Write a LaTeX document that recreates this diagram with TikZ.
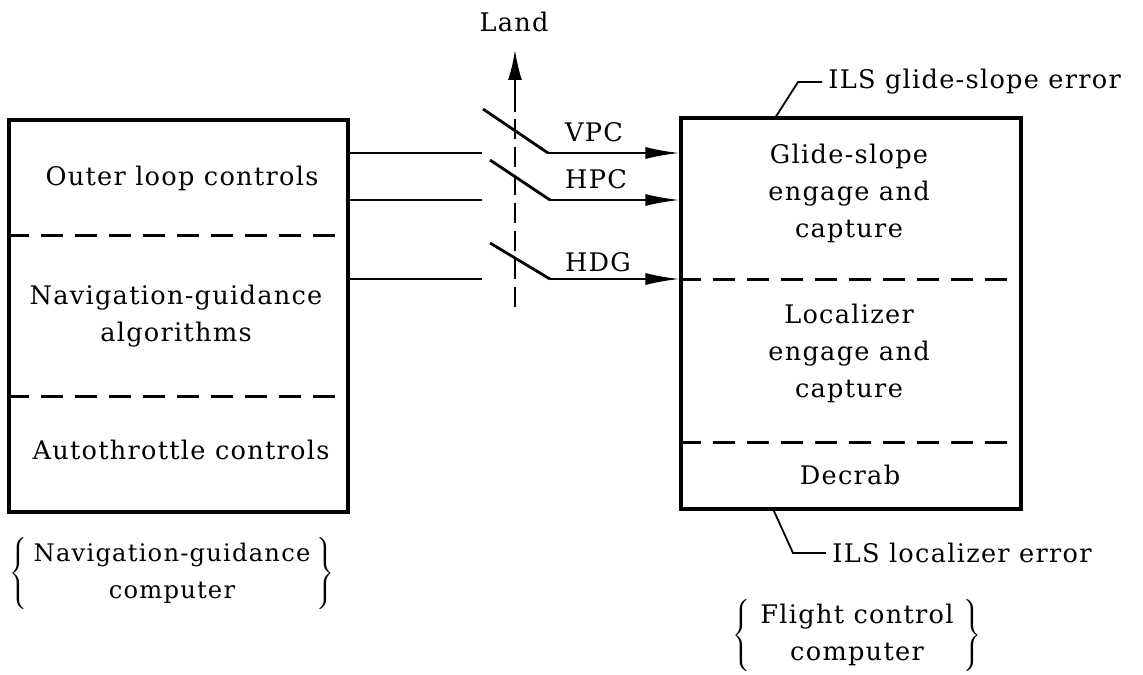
\documentclass[tikz,border=0pt]{standalone}
\usepackage{fontspec}
\setmainfont[LetterSpace=5]{DejaVu Serif}
\usetikzlibrary{arrows.meta}
\begin{document}
\begin{tikzpicture}[x=0.5pt,y=-0.5pt,
  txt/.style={font=\fontsize{12.8}{18.5}\selectfont, align=center, inner sep=0pt},
  box/.style={draw, line width=1.6pt, inner sep=0pt},
  part/.style={line width=1.5pt, dash pattern=on 11pt off 6pt},
  wire/.style={line width=1pt},
  blade/.style={line width=1.4pt},
  sig/.style={line width=1pt, -{Latex[length=17pt,width=6pt]}},
  vdash/.style={line width=1pt, dash pattern=on 10pt off 4pt},
  leader/.style={line width=0.9pt}]
\useasboundingbox (0,0) rectangle (1143,674);

% boxes
\node[box, minimum width=169.5pt, minimum height=196pt] (L) at (178.5,316) {};
\node[box, minimum width=170pt, minimum height=195.5pt] (R) at (851,313.5) {};

% partitions
\draw[part] (L.west |- 0,235) -- (L.east |- 0,235);
\draw[part] (L.west |- 0,396) -- (L.east |- 0,396);
\draw[part] (R.west |- 0,279) -- (R.east |- 0,279);
\draw[part] (R.west |- 0,442) -- (R.east |- 0,442);

% box texts
\node[txt] (t1) at (182,178) {Outer loop controls};
\node[txt] (t2) at (176,316) {Navigation-guidance\\algorithms};
\node[txt] (t3) at (181,450) {Autothrottle controls};
\node[txt] (t4) at (849,193) {Glide-slope\\engage and\\capture};
\node[txt] (t5) at (849,353) {Localizer\\engage and\\capture};
\node[txt] (t6) at (850,475) {Decrab};

% land
\node[txt] (land) at (514,22) {Land};
\coordinate (landbot) at (515,307);
\coordinate (landmid) at (515,112);
\coordinate (landtip) at (515,50);
\draw[vdash] (landbot) -- (landmid);
\draw[line width=1pt, -{Latex[length=15pt,width=7pt]}] (landmid) -- (landtip);

% switches
\coordinate (in1) at (482,153);
\coordinate (b1) at (483,109);
\coordinate (p1) at (548,153);
\coordinate (in2) at (482,200);
\coordinate (b2) at (490,160);
\coordinate (p2) at (550,200);
\coordinate (in3) at (482,279);
\coordinate (b3) at (490,243);
\coordinate (p3) at (550,279);

\draw[wire] (L.east |- in1) -- (in1);
\draw[wire] (L.east |- in2) -- (in2);
\draw[wire] (L.east |- in3) -- (in3);
\draw[blade] (b1) -- (p1);
\draw[blade] (b2) -- (p2);
\draw[blade] (b3) -- (p3);
\draw[sig] (p1) -- (p1 -| R.west);
\draw[sig] (p2) -- (p2 -| R.west);
\draw[sig] (p3) -- (p3 -| R.west);
\node[txt] (vpc) at (594,132) {VPC};
\node[txt] (hpc) at (596,179) {HPC};
\node[txt] (hdg) at (598,262) {HDG};

% ILS leaders
\node[txt, anchor=west] (gs) at (828,82) {ILS glide-slope error};
\node[txt, anchor=west] (loc) at (832,553) {ILS localizer error};
\coordinate (gsa) at (775,118);
\coordinate (loca) at (773,509);
\draw[leader] (gsa) -- (798,82) -- ([xshift=-3pt]gs.west);
\draw[leader] (loca) -- (793,553) -- ([xshift=-3pt]loc.west);

% braces
\node[inner sep=0pt, font=\fontsize{12.1}{18.5}\selectfont] (ngc) at (172,573)
  {$\left\{\vcenter{\hbox{\begin{tabular}{@{\hspace{3pt}}c@{\hspace{3pt}}}Navigation-guidance\\computer\end{tabular}}}\right\}$};
\node[inner sep=0pt, font=\fontsize{12.8}{18.5}\selectfont] (fcc) at (857,635)
  {$\left\{\vcenter{\hbox{\begin{tabular}{@{\hspace{5pt}}c@{\hspace{5pt}}}Flight control\\computer\end{tabular}}}\right\}$};
\end{tikzpicture}
\end{document}
